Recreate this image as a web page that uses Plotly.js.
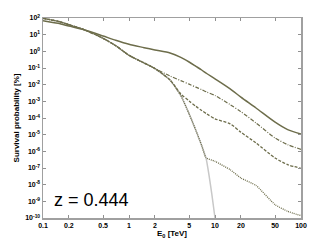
<!DOCTYPE html>
<html>
<head>
<meta charset="utf-8">
<script src="https://cdn.plot.ly/plotly-3.0.1.min.js"></script>
<style>html,body{margin:0;padding:0;background:#fff;}#chart{width:332px;height:246px;}</style>
</head>
<body>
<div id="chart"></div>
<script>
// Energies E0 [TeV]
const energy = [0.1, 0.15, 0.2, 0.3, 0.5, 0.7, 1, 1.5, 2, 3, 4, 5, 6, 7, 8, 10, 15, 20, 30, 50, 70, 100];
// log10 of survival probability [%]
const solidLog   = [1.84, 1.68, 1.52, 1.30, 0.92, 0.66, 0.42, 0.22, 0.08, -0.10, -0.36, -0.64, -0.90, -1.12, -1.33, -1.65, -2.25, -2.75, -3.40, -4.25, -4.70, -4.96];
const dashDotLog = [1.98, 1.80, 1.60, 1.30, 0.78, 0.34, -0.24, -0.70, -1.03, -1.48, -1.76, -1.97, -2.15, -2.30, -2.44, -2.65, -3.20, -3.62, -4.30, -5.20, -5.60, -5.88];
const dashedLog  = [1.98, 1.80, 1.60, 1.30, 0.78, 0.34, -0.24, -0.70, -1.03, -1.72, -2.55, -2.98, -3.30, -3.55, -3.75, -4.05, -4.35, -4.85, -5.50, -6.40, -6.80, -7.02];
const dottedE    = [0.1, 0.15, 0.2, 0.3, 0.5, 0.7, 1, 1.5, 2, 3, 4, 5, 6, 7, 7.85, 10, 15, 20, 30, 50, 70, 100];
const dottedLog  = [1.98, 1.80, 1.60, 1.30, 0.78, 0.34, -0.24, -0.70, -1.03, -1.72, -2.65, -3.75, -4.75, -5.65, -6.38, -6.60, -7.10, -7.60, -8.05, -9.20, -9.60, -9.86];
const grayE      = [0.1, 0.15, 0.2, 0.3, 0.5, 0.7, 1, 1.5, 2, 3, 4, 5, 6, 7, 7.85, 8.5, 9.2, 10, 10.3];
const grayLog    = [1.98, 1.80, 1.60, 1.30, 0.78, 0.34, -0.24, -0.70, -1.03, -1.72, -2.65, -3.75, -4.75, -5.65, -6.38, -7.40, -8.60, -10.0, -10.5];

const xTicks = [0.1, 0.2, 0.5, 1, 2, 5, 10, 20, 50, 100];
const xTickText = ['0.1', '0.2', '0.5', '1', '2', '5', '10', '20', '50', '100'];
const yExps = [2, 1, 0, -1, -2, -3, -4, -5, -6, -7, -8, -9, -10];

const toPct = a => a.map(v => Math.pow(10, v));
const olive = '#6d6d4b';
const sm = 0.7;

const traces = [
  {x: grayE, y: toPct(grayLog), mode: 'lines', line: {color: '#c8c8c8', width: 1.5, shape: 'spline', smoothing: 0.4}},
  {x: dottedE, y: toPct(dottedLog), mode: 'lines', line: {color: '#6f6f4d', width: 1.3, dash: '1px,1px', shape: 'spline', smoothing: 0.5}},
  {x: energy, y: toPct(dashedLog), mode: 'lines', line: {color: olive, width: 1.3, dash: '3px,1.5px', shape: 'spline', smoothing: sm}},
  {x: energy, y: toPct(dashDotLog), mode: 'lines', line: {color: olive, width: 1.2, dash: '4px,1.5px,1px,1.5px', shape: 'spline', smoothing: sm}},
  {x: energy, y: toPct(solidLog), mode: 'lines', line: {color: olive, width: 1.5, shape: 'spline', smoothing: sm}}
];

const tickFont = {family: 'Arial', size: 7, color: '#000', weight: 'bold'};
const layout = {
  width: 332, height: 246,
  margin: {l: 43, r: 31, t: 18, b: 28},
  paper_bgcolor: '#fff', plot_bgcolor: '#fff',
  showlegend: false,
  xaxis: {
    type: 'log', range: [-1, 2],
    tickvals: xTicks, ticktext: xTickText,
    ticks: 'inside', ticklen: 3, tickcolor: '#909090',
    showline: true, linecolor: '#a0a0a0', linewidth: 1.5, mirror: 'ticks',
    showgrid: false, zeroline: false,
    tickfont: tickFont,
    title: {text: 'E<sub>0</sub> [TeV]', font: {family: 'Arial', size: 8, color: '#000', weight: 'bold'}, standoff: 2}
  },
  yaxis: {
    type: 'log', range: [-10, 2],
    tickvals: yExps.map(e => Math.pow(10, e)),
    ticktext: yExps.map(e => '10<sup>' + e + '</sup>'),
    ticks: 'inside', ticklen: 3, tickcolor: '#909090',
    showline: true, linecolor: '#a0a0a0', linewidth: 1.5, mirror: 'ticks',
    showgrid: false, zeroline: false,
    tickfont: tickFont,
    title: {text: 'Survival probability [%]', font: {family: 'Arial', size: 8, color: '#000', weight: 'bold'}, standoff: 4}
  },
  annotations: [{
    text: 'z = 0.444', xref: 'paper', yref: 'paper', x: 0.035, y: 0.03,
    xanchor: 'left', yanchor: 'bottom', showarrow: false,
    font: {family: 'Arial', size: 18, color: '#000'}
  }]
};

Plotly.newPlot('chart', traces, layout, {staticPlot: true, displayModeBar: false});
</script>
</body>
</html>
